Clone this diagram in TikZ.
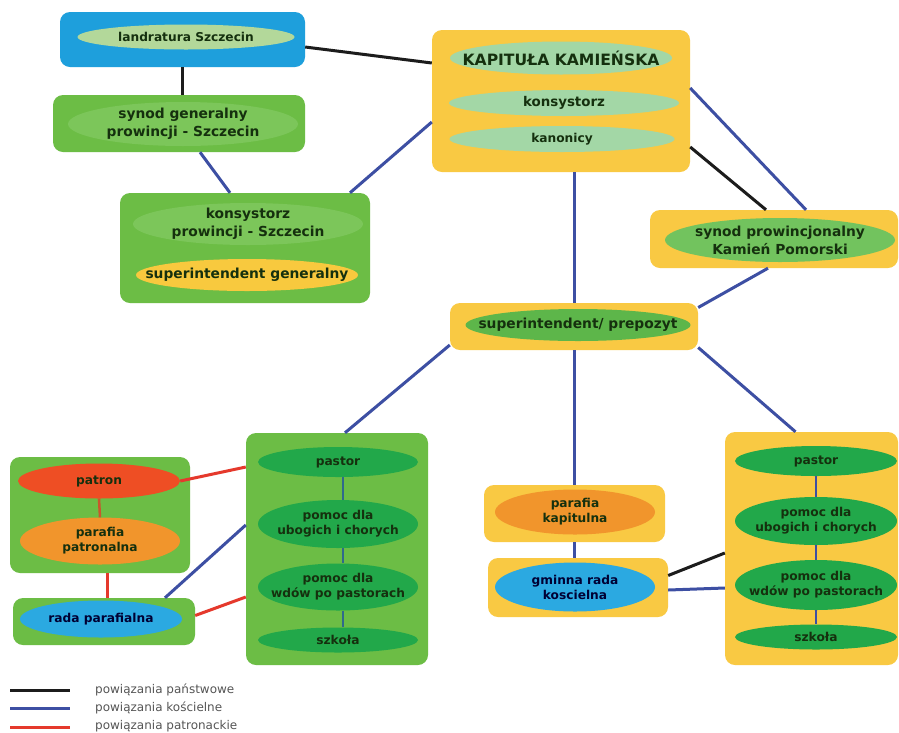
\documentclass[tikz,border=0pt]{standalone}
\usepackage{fontspec}
\setmainfont{DejaVu Sans}
\usetikzlibrary{shapes.geometric,calc}
\definecolor{bxBlue}{HTML}{1E9FDC}
\definecolor{bxGreen}{HTML}{6CBD45}
\definecolor{bxYellow}{HTML}{F9C943}
\definecolor{elLight}{HTML}{B3D89A}
\definecolor{elMint}{HTML}{A3D7A6}
\definecolor{elGreen}{HTML}{7CC65A}
\definecolor{elMid}{HTML}{72C35E}
\definecolor{elSup}{HTML}{5DB64A}
\definecolor{elDark}{HTML}{22A84A}
\definecolor{elRed}{HTML}{EE4E24}
\definecolor{elOrange}{HTML}{F1952C}
\definecolor{elBlue}{HTML}{2BA9E1}
\definecolor{elYellow}{HTML}{F8C93E}
\definecolor{lnBlack}{HTML}{1C1C1C}
\definecolor{lnBlue}{HTML}{3D4FA3}
\definecolor{lnTeal}{HTML}{2F6A8C}
\definecolor{lnRed}{HTML}{E5392C}
\definecolor{lnBrown}{HTML}{C9562C}
\definecolor{txt}{HTML}{15300E}
\definecolor{legtxt}{HTML}{555555}
\begin{document}
\begin{tikzpicture}[x=1pt,y=-1pt,
  box/.style={rounded corners=10pt, inner sep=0pt, draw=none},
  bbox/.style={box, fill=bxBlue},
  gbox/.style={box, fill=bxGreen},
  ybox/.style={box, fill=bxYellow},
  ell/.style={ellipse, inner sep=-30pt, draw=none, align=center, text=txt,
    font=\fontsize{12.2}{15}\selectfont\bfseries},
  big/.style={font=\fontsize{13.8}{18}\selectfont\bfseries},
  blk/.style={draw=lnBlack, line width=3pt},
  blu/.style={draw=lnBlue, line width=3pt},
  red/.style={draw=lnRed, line width=3pt},
  inner/.style={draw=lnTeal, line width=2.5pt},
  legend/.style={anchor=west, text=legtxt, inner sep=0pt,
    font=\fontsize{12}{14}\selectfont}
]
\useasboundingbox[fill=white] (0,0) rectangle (899,732);

% ---------- boxes ----------
\node[bbox, minimum width=245pt, minimum height=55pt] (land) at (182.5,39.5) {};
\node[gbox, minimum width=252pt, minimum height=57pt] (syng) at (179,123.5) {};
\node[gbox, minimum width=250pt, minimum height=110pt] (kons) at (245,248) {};
\node[ybox, minimum width=258pt, minimum height=142pt] (kap) at (561,101) {};
\node[ybox, minimum width=248pt, minimum height=58pt] (synp) at (774,239) {};
\node[ybox, minimum width=248pt, minimum height=47pt] (sup) at (574,326.5) {};
\node[gbox, minimum width=182pt, minimum height=232pt] (lp) at (337,549) {};
\node[gbox, minimum width=180pt, minimum height=116pt] (patg) at (100,515) {};
\node[gbox, minimum width=182pt, minimum height=47pt] (rada) at (104,621.5) {};
\node[ybox, minimum width=181pt, minimum height=57pt] (pk) at (574.5,513.5) {};
\node[ybox, minimum width=180pt, minimum height=59pt] (gm) at (578,587.5) {};
\node[ybox, minimum width=173pt, minimum height=233pt] (rp) at (811.5,548.5) {};

% ---------- ellipses ----------
\node[ell, fill=elLight, minimum width=217pt, minimum height=25pt] (landE) at (186,37) {landratura Szczecin};
\node[ell, big, fill=elGreen, minimum width=230pt, minimum height=44pt] (syngE) at (183,124) {synod generalny\\prowincji - Szczecin};
\node[ell, big, fill=elGreen, minimum width=230pt, minimum height=42pt] (konsE) at (248,224) {konsystorz\\prowincji - Szczecin};
\node[ell, big, fill=elYellow, minimum width=222pt, minimum height=32pt] (sgE) at (247,275) {superintendent generalny};

\node[ell, fill=elMint, minimum width=222pt, minimum height=33pt, font=\fontsize{15.6}{18}\selectfont\bfseries] (kapE) at (561,58) {KAPITUŁA KAMIEŃSKA};
\node[ell, fill=elMint, minimum width=230pt, minimum height=26pt, font=\fontsize{13.4}{15}\selectfont\bfseries] (kapK) at (564,103) {konsystorz};
\node[ell, fill=elMint, minimum width=225pt, minimum height=26pt] (kapN) at (562,139) {kanonicy};

\node[ell, big, fill=elMid, minimum width=230pt, minimum height=44pt] (synpE) at (780,240) {synod prowincjonalny\\Kamień Pomorski};
\node[ell, big, fill=elSup, minimum width=225pt, minimum height=32pt] (supE) at (578,325) {superintendent/ prepozyt};

\node[ell, fill=elDark, minimum width=160pt, minimum height=30pt] (lp1) at (338,462) {pastor};
\node[ell, fill=elDark, minimum width=160pt, minimum height=48pt] (lp2) at (338,524) {pomoc dla\\ubogich i chorych};
\node[ell, fill=elDark, minimum width=160pt, minimum height=47pt] (lp3) at (338,587) {pomoc dla\\wdów po pastorach};
\node[ell, fill=elDark, minimum width=160pt, minimum height=25pt] (lp4) at (338,640) {szkoła};

\node[ell, fill=elRed, minimum width=162pt, minimum height=35pt] (pat) at (99,481) {patron};
\node[ell, fill=elOrange, minimum width=160pt, minimum height=47pt] (parp) at (100,541) {parafia\\patronalna};
\node[ell, fill=elBlue, minimum width=162pt, minimum height=37pt, text=black!80!blue] (radaE) at (101,619) {rada parafialna};

\node[ell, fill=elOrange, minimum width=160pt, minimum height=45pt] (pkE) at (575,512) {parafia\\kapitulna};
\node[ell, fill=elBlue, minimum width=160pt, minimum height=49pt, text=black!80!blue] (gmE) at (575,587) {gminna rada\\koscielna};

\node[ell, fill=elDark, minimum width=162pt, minimum height=30pt] (rp1) at (816,461) {pastor};
\node[ell, fill=elDark, minimum width=162pt, minimum height=48pt] (rp2) at (816,521) {pomoc dla\\ubogich i chorych};
\node[ell, fill=elDark, minimum width=162pt, minimum height=50pt] (rp3) at (816,585) {pomoc dla\\wdów po pastorach};
\node[ell, fill=elDark, minimum width=162pt, minimum height=25pt] (rp4) at (816,637) {szkoła};

% ---------- connectors ----------
\draw[blk] ($(land.east)+(0,7.5)$) -- ($(kap.west)+(0,-38)$);
\draw[blk] (land.south) -- (land.south |- syng.north);
\draw[blu] ($(syng.south)+(21,0)$) -- ($(kons.north)+(-15,0)$);
\draw[blu] ($(kons.north)+(105,0)$) -- ($(kap.west)+(0,21)$);
\draw[blu] ($(kap.east)+(0,-13)$) -- ($(synp.north)+(32,0)$);
\draw[blk] ($(kap.east)+(0,46)$) -- ($(synp.north)+(-8,0)$);
\draw[blu] (sup.north |- kap.south) -- (sup.north);
\draw[blu] ($(synp.south)+(-6,0)$) -- ($(sup.east)+(0,-19)$);
\draw[blu] ($(sup.west)+(0,18.5)$) -- ($(lp.north)+(8,0)$);
\draw[blu] (sup.south) -- (sup.south |- pk.north);
\draw[blu] ($(sup.east)+(0,21)$) -- ($(rp.north)+(-16,0)$);

\draw[red] (pat.east) -- ($(lp.west)+(0,-82)$);
\draw[draw=lnBrown, line width=2.5pt] (pat.south) -- (parp.north);
\draw[red] ($(patg.south)+(7,0)$) -- ($(rada.north)+(3,0)$);
\draw[blu] ($(rada.north)+(61,0)$) -- ($(lp.west)+(0,-24)$);
\draw[red] ($(rada.east)+(0,-6)$) -- ($(lp.west)+(0,48)$);

\draw[inner] ($(lp1.south)+(5,0)$) -- ($(lp2.north)+(5,0)$);
\draw[inner] ($(lp2.south)+(5,0)$) -- ($(lp3.north)+(5,0)$);
\draw[inner] ($(lp3.south)+(5,0)$) -- ($(lp4.north)+(5,0)$);

\draw[blu] (pk.south) -- (pk.south |- gm.north);
\draw[blk] ($(gm.east)+(0,-12)$) -- ($(rp.west)+(0,4.5)$);
\draw[blu] ($(gm.east)+(0,2.5)$) -- ($(rp.west)+(0,39.5)$);

\draw[blu, line width=2.5pt] (rp1.south) -- (rp2.north);
\draw[blu, line width=2.5pt] (rp2.south) -- (rp3.north);
\draw[blu, line width=2.5pt] (rp3.south) -- (rp4.north);

% ---------- legend ----------
\coordinate (l1a) at (10,690); \coordinate (l1b) at (70,690);
\coordinate (l2a) at (10,708); \coordinate (l2b) at (70,708);
\coordinate (l3a) at (10,727); \coordinate (l3b) at (70,727);
\draw[blk] (l1a) -- (l1b);
\draw[blu] (l2a) -- (l2b);
\draw[red] (l3a) -- (l3b);
\node[legend] (t1) at (95,690) {powiązania państwowe};
\node[legend] (t2) at (95,708) {powiązania kościelne};
\node[legend] (t3) at (95,726) {powiązania patronackie};
\end{tikzpicture}
\end{document}
